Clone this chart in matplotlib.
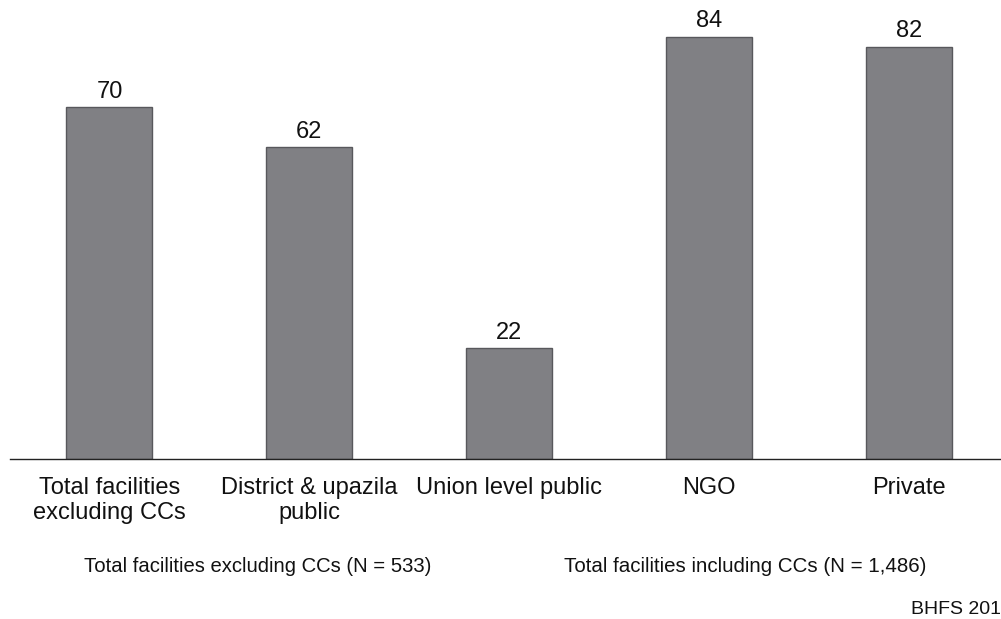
import matplotlib
matplotlib.use("Agg")
import matplotlib.pyplot as plt

categories = [
    "Total facilities\nexcluding CCs",
    "District & upazila\npublic",
    "Union level public",
    "NGO",
    "Private",
]
values = [70, 62, 22, 84, 82]
note_left = "Total facilities excluding CCs (N = 533)"
note_right = "Total facilities including CCs (N = 1,486)"
source = "BHFS 201"

plt.rcParams["font.family"] = ["Liberation Sans", "DejaVu Sans"]

fig = plt.figure(figsize=(10.01, 6.19), dpi=100)
# axes: left 10px, right edge of figure, baseline at y=459px
ax = fig.add_axes([10 / 1001, 1 - 459 / 619, 991 / 1001, 459 / 619])

x = list(range(len(values)))
ax.bar(x, values, width=0.43, color="#808084", edgecolor="#58585c", linewidth=1.0)
for xi, v in zip(x, values):
    ax.text(xi, v + 1.9, str(v), ha="center", va="baseline", fontsize=17, color="#111111")

ax.set_xlim(-0.4975, 4.46)
ax.set_ylim(0, 91.34)
ax.set_xticks(x)
ax.set_xticklabels(categories, fontsize=17, color="#111111", linespacing=1.2)
ax.tick_params(axis="x", length=0, pad=13)
ax.set_yticks([])
for side in ("top", "right", "left"):
    ax.spines[side].set_visible(False)
ax.spines["bottom"].set_color("#222222")
ax.spines["bottom"].set_linewidth(1.0)

fig.text(257.5 / 1001, 1 - 567 / 619, note_left, ha="center", va="center", fontsize=14.6, color="#111111")
fig.text(745 / 1001, 1 - 567 / 619, note_right, ha="center", va="center", fontsize=14.8, color="#111111")
fig.text(1001 / 1001, 1 - 609 / 619, source, ha="right", va="center", fontsize=14, color="#111111")

fig.savefig("out.png", dpi=100)
